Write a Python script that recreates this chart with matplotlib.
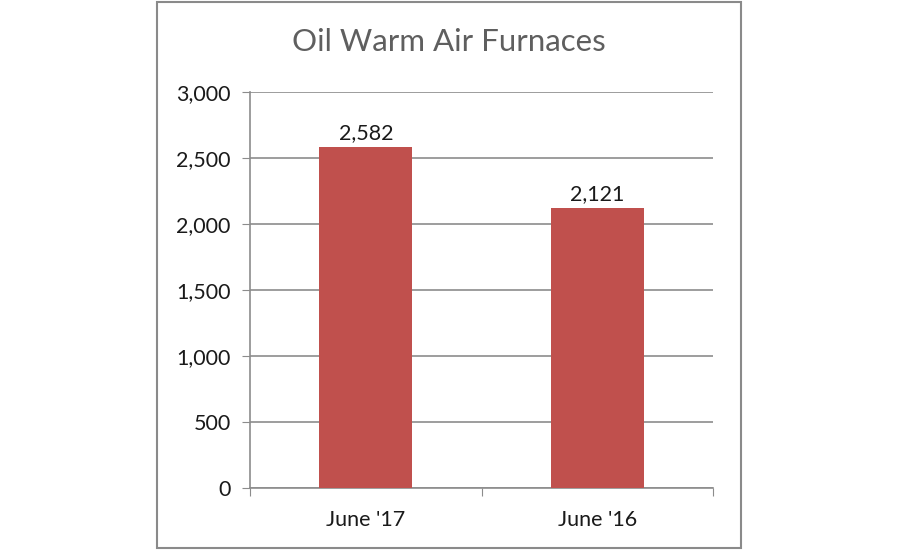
import matplotlib.pyplot as plt
from matplotlib.patches import Rectangle
from matplotlib.ticker import FuncFormatter, MultipleLocator

# data
categories = ["June '17", "June '16"]
values = [2582, 2121]
title = 'Oil Warm Air Furnaces'

bar_color = '#C0504D'
grid_color = '#8C8C8C'

plt.rcParams['font.family'] = ['Lato', 'DejaVu Sans']

fig = plt.figure(figsize=(9, 5.5), dpi=100)
fig.patch.set_facecolor('white')

# outer frame around the chart
fig.patches.append(Rectangle((0.1744, 0.004), 0.649, 0.992, transform=fig.transFigure,
                             fill=False, edgecolor='#8A8A8A', linewidth=1.5))

ax = fig.add_axes([0.2778, 0.1127, 0.5144, 0.72])
x = range(len(categories))
bars = ax.bar(x, values, width=0.4, color=bar_color, zorder=3)

for b, v in zip(bars, values):
    ax.text(b.get_x() + b.get_width() / 2, v + 30, f'{v:,}', ha='center', va='bottom',
            fontsize=15.5, color='#1a1a1a')

ax.set_xlim(-0.5, 1.5)
ax.set_ylim(0, 3000)
ax.yaxis.set_major_locator(MultipleLocator(500))
ax.yaxis.set_major_formatter(FuncFormatter(lambda v, p: f'{int(v):,}'))
ax.grid(axis='y', color=grid_color, linewidth=1.2, zorder=0)

ax.set_xticks([-0.5, 0.5, 1.5])
ax.set_xticklabels([])
ax.set_xticks(list(x), minor=True)
ax.set_xticklabels(categories, minor=True)
ax.tick_params(axis='x', which='major', length=6, color=grid_color, direction='out')
ax.tick_params(axis='x', which='minor', length=0, pad=16, labelsize=15.5, labelcolor='#1a1a1a')
ax.tick_params(axis='y', length=6, color=grid_color, pad=8, labelsize=15.5, labelcolor='#1a1a1a')

for s in ['top', 'right']:
    ax.spines[s].set_visible(False)
for s in ['left', 'bottom']:
    ax.spines[s].set_color(grid_color)
    ax.spines[s].set_linewidth(1.2)

fig.text(0.499, 0.923, title, ha='center', va='center', fontsize=22.5, color='#5f5f5f')

fig.savefig('out.png', dpi=100, facecolor='white')
